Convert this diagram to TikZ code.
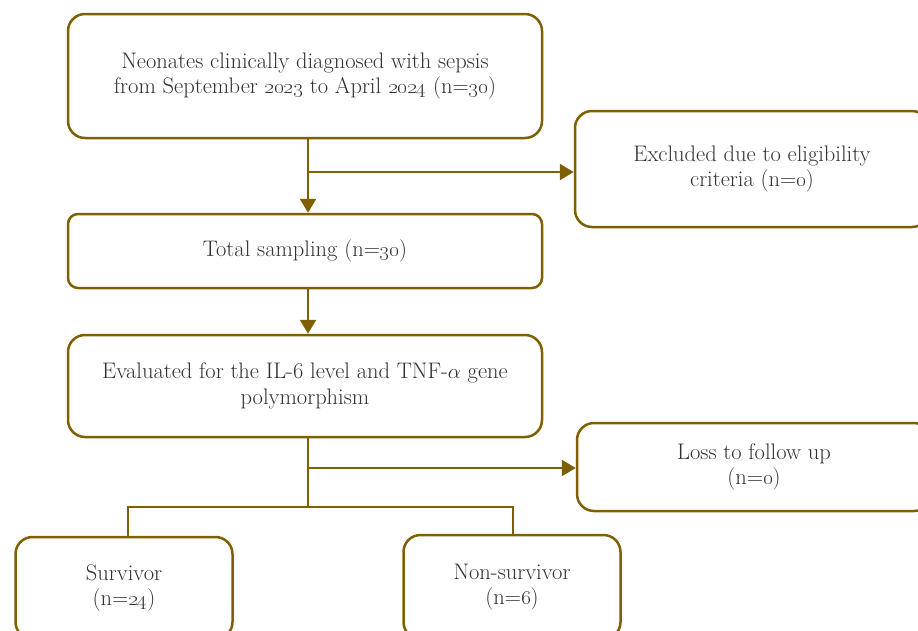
\documentclass[tikz,border=0pt]{standalone}
\usepackage{tikz}
\usetikzlibrary{arrows.meta}

\definecolor{boxline}{RGB}{127,96,0}
\definecolor{boxtext}{RGB}{50,50,50}

\begin{document}
\begin{tikzpicture}[x=1pt,y=-1pt,
		flowbox/.style={draw=boxline,line width=2.5pt,rounded corners=17pt,fill=white,
			text=boxtext,align=center,font=\fontsize{22.5}{25.5}\selectfont},
		link/.style={draw=boxline,line width=2.5pt},
		linkarrow/.style={link,-{Triangle[length=14pt,width=16pt]}}]
		\clip (0,0) rectangle (918,630);
		\fill[white] (0,0) rectangle (918,630);
		% boxes
		\node[flowbox,minimum width=474pt,minimum height=124pt] (neonates) at (305,76)
			{Neonates clinically diagnosed with sepsis\\from September \oldstylenums{2023} to April \oldstylenums{2024} (n=\oldstylenums{30})};
		\node[flowbox,minimum width=354pt,minimum height=116pt] (excluded) at (752,169)
			{Excluded due to eligibility\\criteria (n=\oldstylenums{0})};
		\node[flowbox,rounded corners=10pt,minimum width=474pt,minimum height=74pt] (total) at (305,251)
			{Total sampling (n=\oldstylenums{30})};
		\node[flowbox,minimum width=474pt,minimum height=102pt] (evaluated) at (305,386)
			{Evaluated for the IL-6 level and TNF-$\alpha$ gene\\polymorphism};
		\node[flowbox,minimum width=354pt,minimum height=88pt] (loss) at (754,467)
			{Loss to follow up\\(n=\oldstylenums{0})};
		\node[flowbox,minimum width=217pt,minimum height=102pt] (survivor) at (124,588)
			{Survivor\\(n=\oldstylenums{24})};
		\node[flowbox,minimum width=217pt,minimum height=104pt] (nonsurvivor) at (512,587)
			{Non-survivor\\(n=\oldstylenums{6})};
		% junctions
		\coordinate (split1) at (308,172);
		\coordinate (split2) at (308,468);
		\coordinate (fork) at (308,507);
		\coordinate (forkleft) at (128,507);
		\coordinate (forkright) at (513,507);
		% connectors
		\draw[linkarrow] (neonates.south -| split1) -- (total.north -| split1);
		\draw[linkarrow] (split1) -- (split1 -| excluded.west);
		\draw[linkarrow] (total.south -| split1) -- (evaluated.north -| split1);
		\draw[link] (evaluated.south -| split2) -- (fork);
		\draw[linkarrow] (split2) -- (split2 -| loss.west);
		\draw[link] (survivor.north -| forkleft) -- (forkleft) -- (forkright) -- (nonsurvivor.north -| forkright);
		\end{tikzpicture}
\end{document}
